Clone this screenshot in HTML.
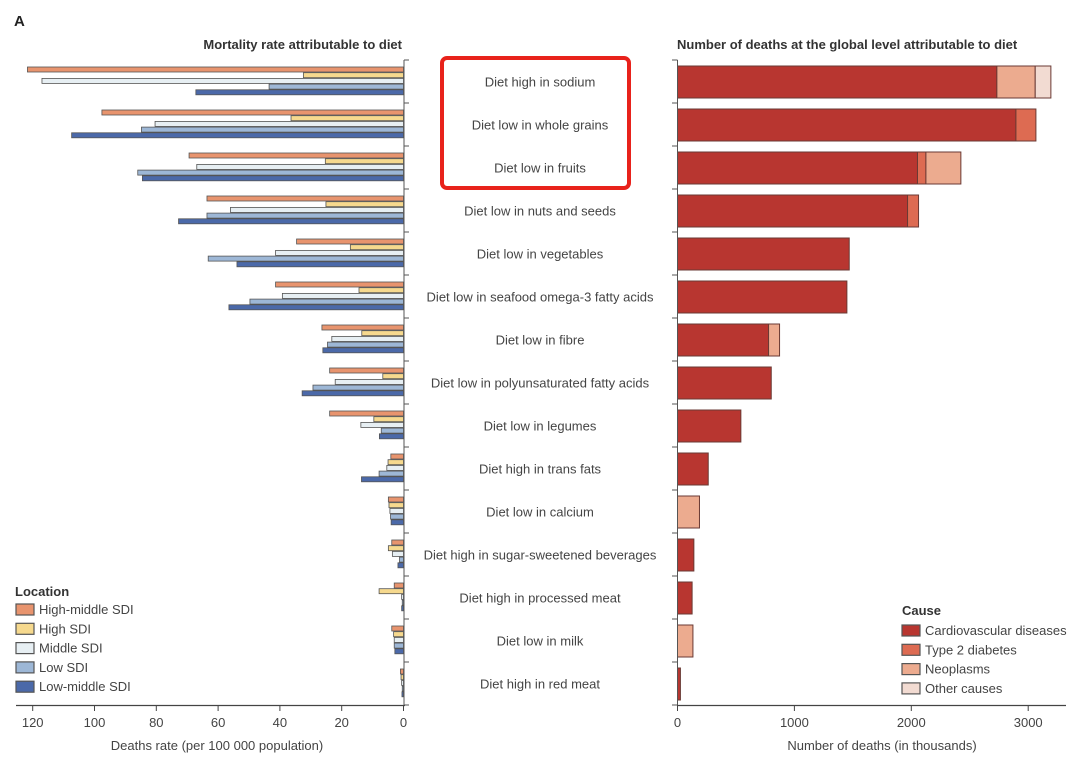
<!DOCTYPE html>
<html><head><meta charset="utf-8"><style>
body{margin:0;background:#fff;width:1080px;height:777px;overflow:hidden;font-family:"Liberation Sans",sans-serif;}
svg text{font-family:"Liberation Sans",sans-serif;}
</style></head><body>
<svg id="chart" width="1080" height="777" xmlns="http://www.w3.org/2000/svg">
<text x="14" y="26" font-size="15" font-weight="bold" fill="#222">A</text>
<text x="402" y="49" font-size="13" font-weight="bold" fill="#333" text-anchor="end">Mortality rate attributable to diet</text>
<text x="677" y="49" font-size="13" font-weight="bold" fill="#333">Number of deaths at the global level attributable to diet</text>
<rect x="442" y="58" width="187" height="130" rx="5" fill="none" stroke="#e8221b" stroke-width="4"/>
<g id="left"></g><g id="right"></g><g id="labels"></g>
</svg>
<script>
const categories=["Diet high in sodium","Diet low in whole grains","Diet low in fruits","Diet low in nuts and seeds","Diet low in vegetables","Diet low in seafood omega-3 fatty acids","Diet low in fibre","Diet low in polyunsaturated fatty acids","Diet low in legumes","Diet high in trans fats","Diet low in calcium","Diet high in sugar-sweetened beverages","Diet high in processed meat","Diet low in milk","Diet high in red meat"];
const locations=["High-middle SDI","High SDI","Middle SDI","Low SDI","Low-middle SDI"];
const highMiddle=[121.7,97.6,69.4,63.6,34.6,41.4,26.4,23.9,23.9,4.1,4.9,3.8,3.0,3.8,1.0];
const highSdi=[32.4,36.4,25.3,25.1,17.2,14.4,13.5,6.7,9.6,5.0,4.7,4.9,7.9,3.2,0.8];
const middleSdi=[117,80.4,66.9,56,41.4,39.2,23.2,22.1,13.8,5.4,4.4,3.6,0.6,3.0,0.6];
const lowSdi=[43.5,84.8,86,63.6,63.2,49.7,24.6,29.3,7.2,7.9,4.2,1.3,0.4,3.0,0.4];
const lowMiddle=[67.2,107.4,84.5,72.8,53.9,56.5,26.1,32.8,7.8,13.6,4.0,1.8,0.6,2.8,0.5];
const causes=["Cardiovascular diseases","Type 2 diabetes","Neoplasms","Other causes"];
const cvd=[2732,2895,2053,1968,1469,1449,779,802,542,263,0,140,125,0,25];
const t2d=[0,171,72,94,0,0,0,0,0,0,0,0,0,0,0];
const neo=[328,0,299,0,0,0,94,0,0,0,188,0,0,132,0];
const other=[134,0,0,0,0,0,0,0,0,0,0,0,0,0,0];
const leftTicks=[0,20,40,60,80,100,120];
const rightTicks=[0,1000,2000,3000];

const NS="http://www.w3.org/2000/svg";
function mk(parent,tag,attrs){const e=document.createElementNS(NS,tag);for(const k in attrs)e.setAttribute(k,attrs[k]);parent.appendChild(e);return e;}
const xL=v=>403.5-v*3.09;
const xR=v=>677.5+v*0.1169;
const rowTop=i=>60+43*i;
const L=document.getElementById('left'),R=document.getElementById('right'),T=document.getElementById('labels');
const locSeries=[highMiddle,highSdi,middleSdi,lowSdi,lowMiddle];
const locColors=["#e8946e","#f6d98e","#e7eff3","#9db7d6","#4b69a9"];
const causeSeries=[cvd,t2d,neo,other];
const causeColors=["#b83630","#dd6b52","#ecab8f","#f2dbd2"];

categories.forEach((c,i)=>{
  locSeries.forEach((s,j)=>{
    const v=s[i];const y=rowTop(i)+7+5.7*j;
    const r=mk(L,'rect',{x:xL(v),y:y,width:Math.max(0,xL(0)-xL(v)),height:5,fill:locColors[j],stroke:"#555","stroke-width":0.8});
    
    
  });
  let acc=0;
  causeSeries.forEach((s,j)=>{
    const v=s[i];if(v<=0)return;
    const r=mk(R,'rect',{x:xR(acc),y:rowTop(i)+6,width:xR(acc+v)-xR(acc),height:32,fill:causeColors[j],stroke:"#6a3a34","stroke-width":1});
    
    
    acc+=v;
  });
  const t=mk(T,'text',{x:540,y:rowTop(i)+26.5,"font-size":13,fill:"#444","text-anchor":"middle"});
  t.textContent=c;
  
  
});
// axes
let a=mk(L,'line',{x1:404,y1:60,x2:404,y2:706,stroke:"#555","stroke-width":1});

a=mk(L,'line',{x1:16,y1:705.5,x2:405,y2:705.5,stroke:"#444","stroke-width":1.2});

a=mk(R,'line',{x1:677.5,y1:60,x2:677.5,y2:706,stroke:"#555","stroke-width":1});

a=mk(R,'line',{x1:677,y1:705.5,x2:1066,y2:705.5,stroke:"#444","stroke-width":1.2});

for(let k=0;k<=15;k++){
  mk(L,'line',{x1:404,y1:rowTop(k),x2:409,y2:rowTop(k),stroke:"#555"});
  mk(R,'line',{x1:672,y1:rowTop(k),x2:677.5,y2:rowTop(k),stroke:"#555"});
}
leftTicks.forEach(v=>{
  mk(L,'line',{x1:xL(v),y1:705,x2:xL(v),y2:711,stroke:"#444"});
  const t=mk(L,'text',{x:xL(v),y:727,"font-size":13,fill:"#444","text-anchor":"middle"});t.textContent=v;
  
  
});
rightTicks.forEach(v=>{
  mk(R,'line',{x1:xR(v),y1:705,x2:xR(v),y2:711,stroke:"#444"});
  const t=mk(R,'text',{x:xR(v),y:727,"font-size":13,fill:"#444","text-anchor":"middle"});t.textContent=v;
  
  
});
let tt=mk(L,'text',{x:217,y:750,"font-size":13,fill:"#444","text-anchor":"middle"});tt.textContent="Deaths rate (per 100 000 population)";


tt=mk(R,'text',{x:882,y:750,"font-size":13,fill:"#444","text-anchor":"middle"});tt.textContent="Number of deaths (in thousands)";


// legends
tt=mk(L,'text',{x:15,y:596,"font-size":13,"font-weight":"bold",fill:"#333"});tt.textContent="Location";


locations.forEach((n,j)=>{
  const y=604+19.3*j;
  const g=mk(L,'g',{});
  
  
  mk(g,'rect',{x:16,y:y,width:18,height:11,fill:locColors[j],stroke:"#555","stroke-width":1.2});
  const t=mk(g,'text',{x:39,y:y+10,"font-size":13,fill:"#444"});t.textContent=n;
});
tt=mk(R,'text',{x:902,y:615,"font-size":13,"font-weight":"bold",fill:"#333"});tt.textContent="Cause";


causes.forEach((n,j)=>{
  const y=625+19.3*j;
  const g=mk(R,'g',{});
  
  
  mk(g,'rect',{x:902,y:y,width:18,height:11,fill:causeColors[j],stroke:"#555","stroke-width":1.2});
  const t=mk(g,'text',{x:925,y:y+10,"font-size":13,fill:"#444"});t.textContent=n;
});
</script>
</body></html>
